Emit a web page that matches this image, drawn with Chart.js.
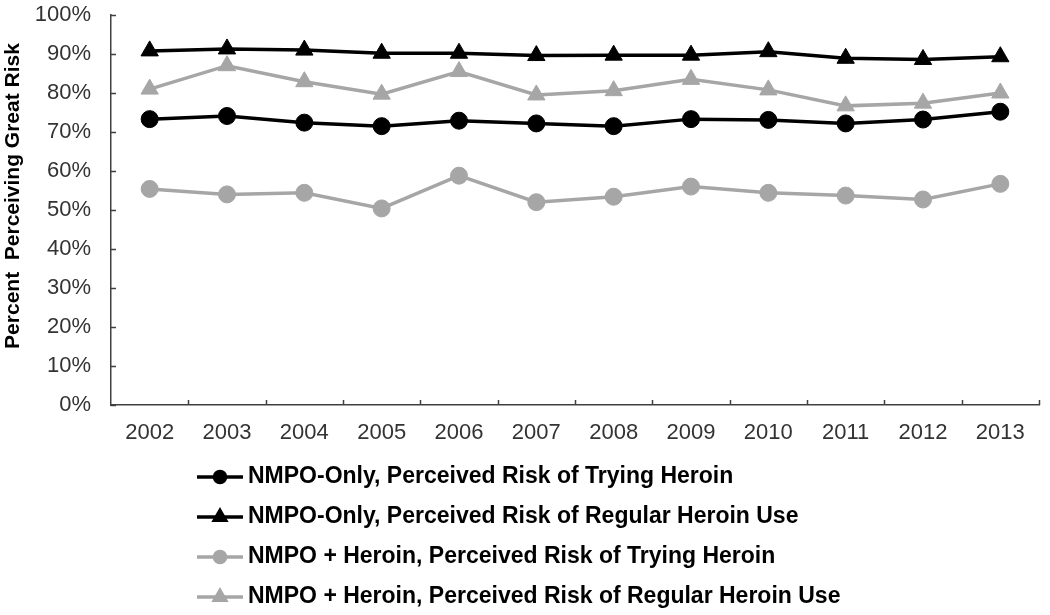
<!DOCTYPE html>
<html>
<head>
<meta charset="utf-8">
<script src="https://cdn.jsdelivr.net/npm/chart.js@4/dist/chart.umd.min.js"></script>
<style>
  html, body { margin: 0; padding: 0; background: #fff; }
  #wrap { width: 1050px; height: 615px; position: relative; }
</style>
</head>
<body>
<div id="wrap"><canvas id="riskChart"></canvas></div>
<script>
"use strict";

const years = ['2002', '2003', '2004', '2005', '2006', '2007', '2008', '2009', '2010', '2011', '2012', '2013'];
const nmpoTrying = [73.3, 74.1, 72.4, 71.5, 72.9, 72.2, 71.5, 73.3, 73.1, 72.2, 73.2, 75.2];
const nmpoRegular = [90.8, 91.3, 91.0, 90.2, 90.2, 89.6, 89.7, 89.7, 90.6, 88.9, 88.6, 89.3];
const heroinTrying = [55.4, 54.0, 54.4, 50.4, 58.8, 52.0, 53.4, 56.0, 54.4, 53.7, 52.7, 56.7];
const heroinRegular = [81.0, 87.0, 82.9, 79.7, 85.5, 79.5, 80.6, 83.5, 80.8, 76.7, 77.4, 80.0];
const seriesLabels = [
    'NMPO-Only, Perceived Risk of Trying Heroin',
    'NMPO-Only, Perceived Risk of Regular Heroin Use',
    'NMPO + Heroin, Perceived Risk of Trying Heroin',
    'NMPO + Heroin, Perceived Risk of Regular Heroin Use'
];

const BLACK = '#000000';
const GRAY = '#a6a6a6';
const AXIS = '#404040';
const FONT = "'Liberation Sans', Arial, sans-serif";

const makeSet = (label, data, color, style) => ({
    label: label,
    data: data,
    borderColor: color,
    backgroundColor: color,
    borderWidth: 3.5,
    tension: 0,
    pointStyle: style,
    pointRadius: style == 'triangle' ? 10 : 8.5,
    pointHoverRadius: style == 'triangle' ? 10 : 8.5,
    pointBorderWidth: 1,
});

// inside tick marks, excel style
const insideTicks = {
    id: 'insideTicks',
    afterDraw(chart) {
        const {ctx, chartArea, scales: {x, y}} = chart;
        ctx.save();
        ctx.strokeStyle = AXIS;
        ctx.lineWidth = 1.5;
        ctx.beginPath();
        y.ticks.forEach(t => {
            const py = Math.round(y.getPixelForValue(t.value)) + 0.5;
            ctx.moveTo(chartArea.left, py);
            ctx.lineTo(chartArea.left + 5, py);
        });
        for (let i = 0; i < years.length; i++) {
            const px = i < years.length - 1
                ? (x.getPixelForValue(i) + x.getPixelForValue(i + 1)) / 2
                : chartArea.right;
            ctx.moveTo(Math.round(px) + 0.5, chartArea.bottom);
            ctx.lineTo(Math.round(px) + 0.5, chartArea.bottom - 5);
        }
        ctx.stroke();

        // y axis title
        ctx.translate(13, 196);
        ctx.rotate(-Math.PI / 2);
        ctx.fillStyle = BLACK;
        ctx.font = 'bold 21px ' + FONT;
        ctx.textAlign = 'center';
        ctx.textBaseline = 'middle';
        ctx.fillText('Percent  Perceiving Great Risk', 0, 0);
        ctx.restore();
    }
};

// legend below the plot, one row per series, line + marker
const stackLegend = {
    id: 'stackLegend',
    afterDraw(chart) {
        const ctx = chart.ctx;
        ctx.save();
        chart.data.datasets.forEach((ds, i) => {
            const cy = 477 + i * 40;
            ctx.strokeStyle = ds.borderColor;
            ctx.lineWidth = 3.5;
            ctx.beginPath();
            ctx.moveTo(197, cy);
            ctx.lineTo(243, cy);
            ctx.stroke();
            ctx.fillStyle = ds.backgroundColor;
            Chart.helpers.drawPoint(ctx, {
                pointStyle: ds.pointStyle,
                radius: ds.pointStyle == 'triangle' ? 6.5 : 5.5,
                rotation: 0,
                borderWidth: 1
            }, 220, cy);
            ctx.fillStyle = BLACK;
            ctx.font = 'bold 23px ' + FONT;
            ctx.textAlign = 'left';
            ctx.textBaseline = 'middle';
            ctx.fillText(ds.label, 248, cy);
        });
        ctx.restore();
    }
};

const ctxEl = document.getElementById('riskChart').getContext('2d');
const riskChart = new Chart(ctxEl, {
    type: 'line',
    data: {
        labels: years,
        datasets: [
            makeSet(seriesLabels[0], nmpoTrying, BLACK, 'circle'),
            makeSet(seriesLabels[1], nmpoRegular, BLACK, 'triangle'),
            makeSet(seriesLabels[2], heroinTrying, GRAY, 'circle'),
            makeSet(seriesLabels[3], heroinRegular, GRAY, 'triangle'),
        ]
    },
    options: {
        responsive: true,
        maintainAspectRatio: false,
        animation: false,
        layout: {
            padding: { top: 15, right: 7, left: 0, bottom: 0 }
        },
        plugins: {
            legend: { display: false },
            tooltip: { enabled: false },
            title: { display: false },
        },
        scales: {
            x: {
                offset: true,
                afterFit: (scale) => { scale.height = 210; },
                border: { display: true, color: AXIS, width: 1.5 },
                grid: { display: false, drawTicks: false },
                ticks: {
                    color: '#333333',
                    padding: 15,
                    maxRotation: 0,
                    font: { family: FONT, size: 22 }
                }
            },
            y: {
                min: 0,
                max: 100,
                afterFit: (scale) => {
                    scale.width = 111;
                    scale.paddingTop = 0;
                    scale.paddingBottom = 0;
                },
                border: { display: true, color: AXIS, width: 1.5 },
                grid: { display: false, drawTicks: false },
                ticks: {
                    stepSize: 10,
                    color: '#333333',
                    padding: 20,
                    font: { family: FONT, size: 22 },
                    callback: (v) => v + '%'
                }
            }
        }
    },
    plugins: [insideTicks, stackLegend]
});
</script>
</body>
</html>
